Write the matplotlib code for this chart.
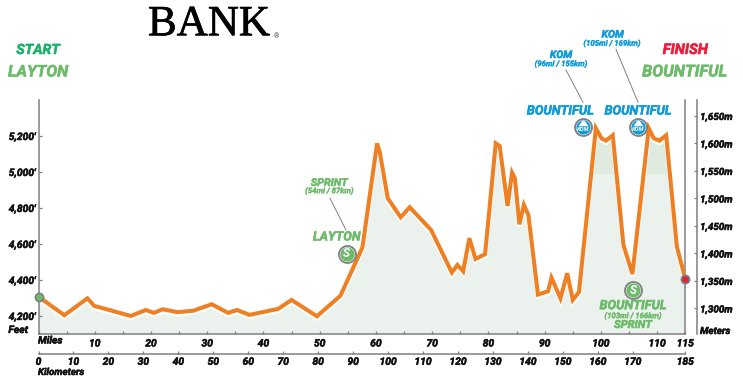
import numpy as np
import matplotlib
matplotlib.use('Agg')
import matplotlib.pyplot as plt
import matplotlib.patheffects as pe
from matplotlib.transforms import ScaledTranslation

W, H = 743, 382
miles = [0, 4.6, 8.7, 9.9, 16.4, 19.1, 20.5, 22.1, 24.7, 27.5, 30.8, 33.7, 35.3, 37.5, 42.6, 45.0, 49.5,
         53.7, 57.6, 60.2, 60.7, 62.1, 64.4, 66.0, 69.8, 73.5, 74.5, 75.5, 76.6, 77.7, 79.4, 81.3, 82.0,
         83.4, 84.2, 84.7, 85.5, 86.3, 87.1, 88.8, 90.6, 91.2, 92.8, 94.0, 95.0, 96.1, 99.1, 100.1, 100.9,
         102.1, 104.0, 105.6, 108.5, 109.4, 110.4, 111.6, 113.5, 115]
feet = [4307, 4204, 4298, 4256, 4200, 4233, 4217, 4237, 4221, 4229, 4265, 4217, 4233, 4206, 4239, 4289, 4198,
        4313, 4581, 5159, 5107, 4854, 4748, 4804, 4678, 4441, 4483, 4448, 4632, 4517, 4543, 5159, 5144,
        4811, 4996, 4965, 4709, 4817, 4761, 4319, 4337, 4413, 4298, 4437, 4289, 4333, 5243, 5187, 5174,
        5204, 4594, 4433, 5243, 5187, 5174, 5204, 4585, 4406]

feet_ticks = [4200, 4400, 4600, 4800, 5000, 5200]
meter_ticks = [1300, 1350, 1400, 1450, 1500, 1550, 1600, 1650]
mile_ticks = list(range(0, 115, 5)) + [115]
km_ticks = list(range(0, 180, 10)) + [185]

sprint_miles = [54.8, 105.7]
sprint_feet = [4547, 4343]
kom_miles = [96.8, 106.6]
kom_feet = [5252, 5252]

ORANGE = '#ee7f23'
GREEN = '#6cbb6a'
BLUE = '#0e9bd8'
RED = '#ed1c3a'
GRAY = '#808080'
FILL = '#ebf1ec'
FILL_DARK = '#dfebdf'
BLACK = '#111111'

plt.rcParams['font.family'] = ['Roboto', 'DejaVu Sans']

fig = plt.figure(figsize=(W / 100, H / 100), dpi=100)
ax = fig.add_axes([38.5 / W, 1 - 334.3 / H, (685.3 - 38.5) / W, (334.3 - 100) / H])
ax.set_xlim(0, 115)
ax.set_ylim(4098, 5400)
ax.patch.set_alpha(0)

x = np.array(miles)
y = np.array(feet)
down = ax.transData + ScaledTranslation(0, -1.5 / 72, fig.dpi_scale_trans)
ax.fill_between(x, y, 4098, color=FILL, lw=0, transform=down, zorder=1)
ax.fill_between(x, y, 5000, where=(y > 5000) & (x > 96), interpolate=True, color=FILL_DARK, lw=0, transform=down, zorder=2)
ax.plot(x, y, color='white', lw=3.4, transform=down, solid_joinstyle='miter', zorder=3)
ax.plot(x, y, color=ORANGE, lw=2.9, solid_joinstyle='miter', zorder=4)

# start / finish dots
ax.scatter(miles[0], feet[0], s=34, color=GREEN, edgecolor=GRAY, lw=1.3, zorder=6, clip_on=False)
ax.scatter(miles[-1], feet[-1], s=34, color=RED, edgecolor=GRAY, lw=1.3, zorder=6, clip_on=False)

heavy = [pe.withStroke(linewidth=0.35, foreground=BLACK)]
mountain = [(-1, -0.35), (-0.35, 0.55), (0, 0.8), (0.35, 0.55), (1, -0.35), (-1, -0.35)]

# badges
for mx, fx in zip(sprint_miles, sprint_feet):
    ax.scatter(mx, fx, s=150, color='white', edgecolor=GRAY, lw=1.3, zorder=6)
    ax.scatter(mx, fx, s=105, color=GREEN, lw=0, zorder=7)
    ax.text(mx, fx, 'S', color='white', fontsize=8.5, weight='bold', style='italic', ha='center', va='center', zorder=8)
for mx, fx in zip(kom_miles, kom_feet):
    ax.scatter(mx, fx, s=150, color='white', edgecolor=GRAY, lw=1.3, zorder=6)
    ax.scatter(mx, fx, s=105, color=BLUE, lw=0, zorder=7)
    ax.scatter(mx, fx + 16, s=55, color='white', marker=mountain, lw=0, zorder=8)
    ax.text(mx, fx - 16, 'KOM', color='white', fontsize=4.2, weight='bold', style='italic', ha='center', va='center', zorder=9)

ax.spines['top'].set_visible(False)
for side in ['left', 'right', 'bottom']:
    ax.spines[side].set_color(GRAY)
    ax.spines[side].set_linewidth(1.1)

ax.set_yticks(feet_ticks, [f"{v:,}'" for v in feet_ticks])
ax.set_xticks(mile_ticks, [str(m) if m and (m % 10 == 0 or m == 115) else '' for m in mile_ticks])
ax.tick_params(axis='y', direction='in', length=2.5, width=0.9, color=GRAY, pad=2, labelsize=7.4)
ax.tick_params(axis='x', direction='in', length=2.5, width=0.9, color=GRAY, pad=3, labelsize=7.4)

# meters axis
axm = ax.twinx()
axm.set_ylim(1253, 1679)
for side in ['top', 'left', 'bottom']:
    axm.spines[side].set_visible(False)
axm.spines['right'].set_position(('outward', 8.6))
axm.spines['right'].set_color(GRAY)
axm.spines['right'].set_linewidth(1.1)
axm.set_yticks(meter_ticks, [f'{v:,}m' for v in meter_ticks])
axm.tick_params(axis='y', direction='in', length=2.5, width=0.9, color=GRAY, pad=2, labelsize=7.1)

# kilometers axis
axk = ax.twiny()
axk.set_xlim(0, 185)
for side in ['top', 'left', 'right']:
    axk.spines[side].set_visible(False)
axk.spines['bottom'].set_position(('outward', 14.2))
axk.spines['bottom'].set_color(GRAY)
axk.spines['bottom'].set_linewidth(1.1)
axk.xaxis.set_ticks_position('bottom')
axk.xaxis.set_label_position('bottom')
axk.set_xticks(km_ticks, [str(k) for k in km_ticks])
axk.tick_params(axis='x', direction='in', length=2.5, width=0.9, color=GRAY, pad=2, labelsize=7.4)

for a in (ax, axm, axk):
    for lab in a.get_xticklabels() + a.get_yticklabels():
        lab.set_style('italic')
        lab.set_weight('bold')
        lab.set_color(BLACK)
        lab.set_path_effects(heavy)


def label(px, py, s, color=BLACK, size=7.4, ha='center', stroke=0.35, **kw):
    kw.setdefault('weight', 'bold')
    kw.setdefault('style', 'italic')
    t = fig.text(px / W, 1 - py / H, s, color=color, fontsize=size, ha=ha, va='center', **kw)
    if stroke:
        t.set_path_effects([pe.withStroke(linewidth=stroke, foreground=color)])


def leader(x0, y0, x1, y1):
    fig.add_artist(plt.Line2D([x0 / W, x1 / W], [1 - y0 / H, 1 - y1 / H], color=GRAY, lw=0.7))


label(38, 340.5, 'Miles', ha='left')
label(38, 372, 'Kilometers', ha='left', size=7)
label(28, 330, 'Feet', ha='right')
label(700, 331, 'Meters', ha='left', size=7.1)

label(209, 25, 'BANK', size=31, family='Liberation Serif', weight='normal', style='normal', color='black', stroke=0.5)
label(276, 36.5, '®', size=5, style='normal', weight='normal', color='#444444', stroke=0)

label(38, 50, 'START', '#1fb06e', 10.2)
label(38, 72, 'LAYTON', GREEN, 11.6)
label(685.3, 50, 'FINISH', RED, 10.6)
label(684.7, 72, 'BOUNTIFUL', GREEN, 11.8)

label(561, 55, 'KOM', BLUE, 7.5)
label(561, 64, '(96mi / 155km)', BLUE, 5.6, stroke=0.2)
label(612.7, 34.5, 'KOM', BLUE, 7.5)
label(612, 43.5, '(105mi / 169km)', BLUE, 5.6, stroke=0.2)
label(560.3, 111, 'BOUNTIFUL', BLUE, 9.3)
label(638, 111, 'BOUNTIFUL', BLUE, 9.3)

label(329.3, 183, 'SPRINT', GREEN, 7.8)
label(329.3, 191, '(54mi / 87km)', GREEN, 5.6, stroke=0.2)
label(336.7, 237, 'LAYTON', GREEN, 9.2)
label(633, 305.7, 'BOUNTIFUL', GREEN, 9.3)
label(633, 316, '(103mi / 166km)', GREEN, 5.6, stroke=0.2)
label(633, 325, 'SPRINT', GREEN, 8)

leader(330, 198.3, 346, 230)
leader(566, 70, 583, 102.3)
leader(616, 49.3, 638, 102.3)

fig.savefig('out.png', dpi=100)
